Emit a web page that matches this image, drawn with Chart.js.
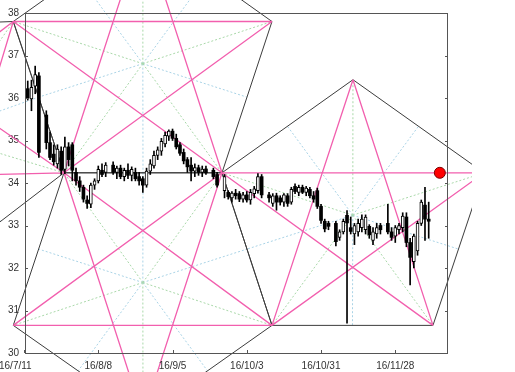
<!DOCTYPE html>
<html>
<head>
<meta charset="utf-8">
<script src="https://cdn.jsdelivr.net/npm/chart.js@4/dist/chart.umd.min.js"></script>
<style>
html, body { margin: 0; padding: 0; background: #fff; }
canvas { display: block; }
</style>
</head>
<body>
<canvas id="chart" width="515" height="372"></canvas>
<script>
// trading days (x is placed on a Mon-Fri slot axis, holidays leave an empty slot)
const dates = [
  '2016-07-11','2016-07-12','2016-07-13','2016-07-14','2016-07-15',
  '2016-07-19','2016-07-20','2016-07-21','2016-07-22',
  '2016-07-25','2016-07-26','2016-07-27','2016-07-28','2016-07-29',
  '2016-08-01','2016-08-02','2016-08-03','2016-08-04','2016-08-05',
  '2016-08-08','2016-08-09','2016-08-10','2016-08-12',
  '2016-08-15','2016-08-16','2016-08-17','2016-08-18','2016-08-19',
  '2016-08-22','2016-08-23','2016-08-24','2016-08-25','2016-08-26',
  '2016-08-29','2016-08-30','2016-08-31','2016-09-01','2016-09-02',
  '2016-09-05','2016-09-06','2016-09-07','2016-09-08','2016-09-09',
  '2016-09-12','2016-09-13','2016-09-14','2016-09-15','2016-09-16',
  '2016-09-20','2016-09-21','2016-09-23',
  '2016-09-26','2016-09-27','2016-09-28','2016-09-29','2016-09-30',
  '2016-10-03','2016-10-04','2016-10-05','2016-10-06','2016-10-07',
  '2016-10-11','2016-10-12','2016-10-13','2016-10-14',
  '2016-10-17','2016-10-18','2016-10-19','2016-10-20','2016-10-21',
  '2016-10-24','2016-10-25','2016-10-26','2016-10-27','2016-10-28',
  '2016-10-31','2016-11-01','2016-11-02','2016-11-04',
  '2016-11-07','2016-11-08','2016-11-09','2016-11-10','2016-11-11',
  '2016-11-14','2016-11-15','2016-11-16','2016-11-17','2016-11-18',
  '2016-11-21','2016-11-22','2016-11-24','2016-11-25',
  '2016-11-28','2016-11-29','2016-11-30','2016-12-01','2016-12-02',
  '2016-12-05','2016-12-06','2016-12-07','2016-12-08','2016-12-09'
];
const opens = [
  35.35,36.22,35.98,36.28,36.52, 35.60,34.95,34.68,34.45, 34.75,34.32,34.85,34.90,34.25,
  34.05,33.90,33.60,33.50,33.95, 34.05,34.30,34.25,34.42, 34.25,34.35,34.15,34.30,34.18,
  34.25,34.15,34.10,33.95,34.28, 34.40,34.65,34.75,34.92,35.10, 35.22,35.05,34.90,34.72,34.55,
  34.42,34.28,34.36,34.25,34.33, 34.30,34.20,33.82, 33.78,33.65,33.76,33.75,33.62,
  33.72,33.60,33.75,33.82,34.15, 33.72,33.52,33.70,33.65, 33.55,33.70,33.55,33.92,33.78,
  33.90,33.78,33.85,33.70,33.82, 33.45,33.10,33.05,33.05, 32.72,32.85,33.24,32.95,32.80,
  32.85,32.95,32.90,32.98,32.65, 32.80,33.00,33.05,32.85, 32.75,32.90,32.95,33.20,32.60,
  32.15,32.40,33.05,33.48,33.15
];
const highs = [
  36.30,36.40,36.42,36.75,36.60, 35.70,35.20,34.90,34.90, 34.85,35.08,34.95,34.95,34.35,
  34.15,33.95,33.70,34.00,34.10, 34.40,34.45,34.48,34.50, 34.40,34.42,34.35,34.45,34.38,
  34.35,34.25,34.15,34.35,34.55, 34.75,34.85,35.05,35.20,35.25, 35.27,35.15,34.95,34.80,34.60,
  34.60,34.45,34.42,34.40,34.40, 34.35,34.25,34.20, 33.82,33.80,33.85,33.80,33.78,
  33.80,33.85,33.92,34.22,34.20, 33.78,33.75,33.76,33.70, 33.75,33.75,33.90,33.98,33.95,
  33.95,33.92,33.90,33.80,33.88, 33.50,33.15,33.10,33.10, 32.90,33.15,33.35,33.20,33.05,
  33.15,33.25,33.25,33.02,32.95, 33.05,33.05,33.50,32.95, 33.00,33.05,33.30,33.30,32.70,
  32.80,33.10,33.60,33.90,33.55
];
const lows = [
  34.78,35.95,35.70,36.10,34.60, 34.80,34.55,34.42,34.35, 34.20,34.22,34.40,34.05,33.95,
  33.80,33.55,33.40,33.42,33.85, 34.00,34.15,34.15,34.20, 34.10,34.10,34.05,34.10,34.05,
  34.05,33.95,33.78,33.90,34.20, 34.35,34.55,34.65,34.85,35.00, 35.00,34.80,34.65,34.45,34.25,
  34.05,34.15,34.18,34.15,34.20, 34.10,33.90,33.65, 33.62,33.55,33.62,33.56,33.55,
  33.55,33.50,33.65,33.76,33.65, 33.55,33.45,33.36,33.48, 33.45,33.45,33.50,33.75,33.70,
  33.75,33.70,33.65,33.55,33.40, 33.05,32.85,32.90,32.52, 32.65,32.80,30.70,32.80,32.55,
  32.75,32.85,32.80,32.70,32.55, 32.70,32.80,32.80,32.65, 32.60,32.80,32.85,32.50,31.60,
  32.00,32.30,33.00,32.65,32.70
];
const closes = [
  36.25,36.00,36.25,36.55,34.72, 34.95,34.60,34.50,34.80, 34.30,34.85,34.55,34.30,34.05,
  33.90,33.62,33.52,33.95,34.05, 34.32,34.20,34.42,34.25, 34.35,34.15,34.30,34.18,34.32,
  34.10,34.05,33.95,34.28,34.45, 34.65,34.78,34.98,35.12,35.22, 35.05,34.85,34.70,34.52,34.38,
  34.28,34.36,34.25,34.33,34.24, 34.15,33.95,34.15, 33.68,33.76,33.70,33.62,33.72,
  33.60,33.78,33.86,34.15,33.72, 33.65,33.70,33.55,33.55, 33.72,33.52,33.85,33.80,33.90,
  33.78,33.88,33.70,33.62,33.45, 33.12,32.92,32.98,32.62, 32.85,33.10,33.06,32.86,33.00,
  33.05,33.15,33.20,32.78,32.85, 32.95,32.90,32.85,32.72, 32.95,33.00,33.22,32.60,32.25,
  32.75,33.05,33.55,33.15,33.10
];

const tickDates = ['2016-07-11','2016-08-08','2016-09-05','2016-10-03','2016-10-31','2016-11-28'];
const tickLabels = ['16/7/11','16/8/8','16/9/5','16/10/3','16/10/31','16/11/28'];

// signal dot
const markerDate = '2016-12-14';
const markerPrice = 34.24;

// pentagon drawing, vertices as [slot, price], listed round the outline
const pentTop   = [[32.04, 39.96], [66.79, 37.80], [53.32, 34.24], [10.76, 34.24], [-2.9, 37.80]];
const pentLow   = [[10.76, 34.24], [53.32, 34.24], [66.79, 30.65], [32.04, 28.51], [-2.9, 30.65]];
const pentRight = [[53.32, 34.24], [88.60, 36.43], [123.9, 34.24], [110.15, 30.65], [66.79, 30.65]];
const pentLeft  = [[10.76, 34.24], [-2.9, 37.80], [-45.8, 37.66], [-58.4, 34.09], [-23.0, 31.98]];
const pentagons = [pentTop, pentLow, pentRight, pentLeft];

const day0 = Date.UTC(2016, 6, 11);
function slotOf(d) {
  const p = d.split('-').map(Number);
  const days = Math.round((Date.UTC(p[0], p[1] - 1, p[2]) - day0) / 86400000);
  return Math.floor(days / 7) * 5 + days % 7;
}

function toSegments(pairs) {
  const out = [];
  pairs.forEach(([a, b]) => {
    out.push({x: a[0], y: a[1]}, {x: b[0], y: b[1]}, {x: b[0], y: null});
  });
  return out;
}

const edgePairs = [], starPairs = [], vRays = [], mRays = [];
pentagons.forEach(pg => {
  const c = [pg.reduce((s, v) => s + v[0], 0) / 5, pg.reduce((s, v) => s + v[1], 0) / 5];
  pg.forEach((v, i) => {
    const n = pg[(i + 1) % 5];
    edgePairs.push([v, n]);
    starPairs.push([v, pg[(i + 2) % 5]]);
    vRays.push([c, v]);
    mRays.push([c, [(v[0] + n[0]) / 2, (v[1] + n[1]) / 2]]);
  });
});

const wickData = dates.map((d, i) => ({x: slotOf(d), y: [lows[i], highs[i]]}));
const upData = [], downData = [];
dates.forEach((d, i) => {
  const bar = {x: slotOf(d), y: [opens[i], closes[i]]};
  (closes[i] >= opens[i] ? upData : downData).push(bar);
});

const outside = {left: 25, top: 13, right: 24, bottom: 19};
function overlay(data, color, width, dash, order) {
  return {
    type: 'line', data, borderColor: color, borderWidth: width, borderDash: dash,
    pointRadius: 0, spanGaps: false, tension: 0, clip: outside, order
  };
}

const framePlugin = {
  id: 'frame',
  afterDraw(chart) {
    const {ctx, chartArea: a, scales: {x, y}} = chart;
    ctx.save();
    ctx.strokeStyle = '#555';
    ctx.lineWidth = 1;
    ctx.strokeRect(a.left + 0.5, a.top + 0.5, a.right - a.left - 1, a.bottom - a.top);
    ctx.beginPath();
    y.ticks.forEach(t => {
      const py = Math.round(y.getPixelForValue(t.value)) + 0.5;
      ctx.moveTo(a.left, py); ctx.lineTo(a.left + 3, py);
      ctx.moveTo(a.right, py); ctx.lineTo(a.right - 3, py);
    });
    tickDates.forEach(d => {
      const px = Math.round(x.getPixelForValue(slotOf(d))) + 0.5;
      ctx.moveTo(px, a.bottom); ctx.lineTo(px, a.bottom - 3);
    });
    ctx.stroke();
    ctx.fillStyle = '#333';
    ctx.font = '10px "Liberation Sans", Arial, sans-serif';
    ctx.textBaseline = 'middle';
    tickDates.forEach((d, i) => {
      const px = x.getPixelForValue(slotOf(d));
      ctx.textAlign = i === 0 ? 'left' : 'center';
      ctx.fillText(tickLabels[i], i === 0 ? -1 : px, a.bottom + 13);
    });
    ctx.restore();
  }
};

new Chart(document.getElementById('chart'), {
  type: 'bar',
  data: {
    datasets: [
      {type: 'line', data: [{x: slotOf(markerDate), y: markerPrice}], showLine: false,
       pointRadius: 5.5, pointBackgroundColor: '#ff0000', pointBorderColor: '#7a0000',
       pointBorderWidth: 1, order: 0},
      {data: upData, backgroundColor: '#ffffff', borderColor: '#000000', borderWidth: 1,
       borderSkipped: false, barThickness: 3, grouped: false, order: 1},
      {data: downData, backgroundColor: '#000000', borderColor: '#000000', borderWidth: 0,
       borderSkipped: false, barThickness: 3, grouped: false, order: 1},
      {data: wickData, backgroundColor: '#000000', borderWidth: 0, barThickness: 1,
       grouped: false, order: 2},
      overlay(toSegments(starPairs), '#f25fae', 1.3, [], 5),
      overlay(toSegments(edgePairs), '#3c3c3c', 1, [], 6),
      overlay(toSegments(vRays), '#a9d8a9', 1, [2, 2], 7),
      overlay(toSegments(mRays), '#a9d3e6', 1, [2, 2], 8)
    ]
  },
  options: {
    responsive: false,
    animation: false,
    layout: {padding: {left: 0, right: 67, top: 13, bottom: 0}},
    plugins: {legend: {display: false}, tooltip: {enabled: false}},
    scales: {
      x: {
        type: 'linear', min: 0.26, max: 114.2, offset: false,
        grid: {display: false, drawTicks: false}, border: {display: false},
        ticks: {display: false},
        afterFit(s) { s.height = 19; }
      },
      y: {
        min: 30, max: 38, beginAtZero: false,
        grid: {display: false, drawTicks: false}, border: {display: false},
        ticks: {stepSize: 1, padding: 6, color: '#333',
                font: {family: '"Liberation Sans", Arial, sans-serif', size: 10}},
        afterFit(s) { s.width = 25; }
      }
    }
  },
  plugins: [framePlugin]
});
</script>
</body>
</html>
